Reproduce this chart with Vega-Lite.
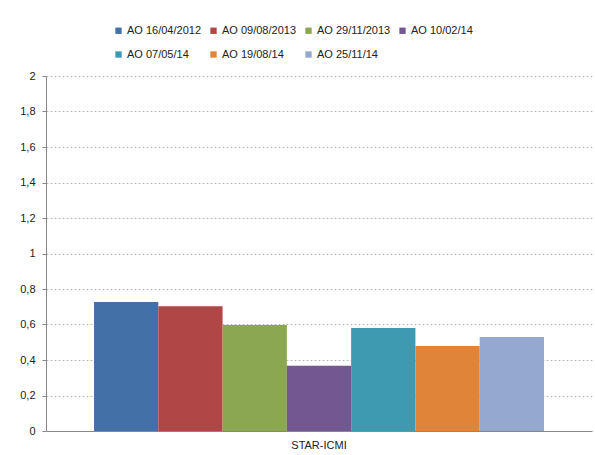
{
  "$schema": "https://vega.github.io/schema/vega-lite/v6.json",
  "autosize": {"type": "none"},
  "width": 546,
  "height": 355,
  "padding": {"left": 46, "top": 76, "right": 3, "bottom": 24},
  "background": "white",
  "config": {
    "font": "Liberation Sans",
    "view": {"stroke": null}
  },
  "data": {
    "values": [
      {"group": "STAR-ICMI", "series": "AO 16/04/2012", "value": 0.727},
      {"group": "STAR-ICMI", "series": "AO 09/08/2013", "value": 0.703},
      {"group": "STAR-ICMI", "series": "AO 29/11/2013", "value": 0.597},
      {"group": "STAR-ICMI", "series": "AO 10/02/14", "value": 0.368},
      {"group": "STAR-ICMI", "series": "AO 07/05/14", "value": 0.580},
      {"group": "STAR-ICMI", "series": "AO 19/08/14", "value": 0.479},
      {"group": "STAR-ICMI", "series": "AO 25/11/14", "value": 0.530}
    ]
  },
  "mark": {"type": "bar"},
  "encoding": {
    "x": {
      "field": "group", "type": "nominal", "title": null,
      "scale": {"paddingInner": 0, "paddingOuter": 0.1067},
      "axis": {"labelAngle": 0, "labelFontSize": 11, "labelColor": "#222", "labelPadding": 8, "ticks": false, "domainColor": "#888", "grid": false}
    },
    "xOffset": {
      "field": "series", "type": "nominal",
      "sort": ["AO 16/04/2012", "AO 09/08/2013", "AO 29/11/2013", "AO 10/02/14", "AO 07/05/14", "AO 19/08/14", "AO 25/11/14"],
      "scale": {"paddingInner": 0, "paddingOuter": 0}
    },
    "y": {
      "field": "value", "type": "quantitative", "title": null,
      "scale": {"domain": [0, 2], "nice": false},
      "axis": {"values": [0, 0.2, 0.4, 0.6, 0.8, 1, 1.2, 1.4, 1.6, 1.8, 2], "labelExpr": "replace(format(datum.value, '~g'), '.', ',')", "labelFontSize": 11, "labelColor": "#222", "labelPadding": 7, "tickSize": 4, "tickColor": "#888", "domainColor": "#888", "gridColor": "#aaa", "gridDash": [2, 2], "gridWidth": 0.8}
    },
    "color": {
      "field": "series", "type": "nominal",
      "sort": ["AO 16/04/2012", "AO 09/08/2013", "AO 29/11/2013", "AO 10/02/14", "AO 07/05/14", "AO 19/08/14", "AO 25/11/14"],
      "scale": {"range": ["#4470a8", "#b04645", "#8ca751", "#725791", "#3d9ab1", "#e0843a", "#94a9cd"]},
      "legend": {
        "title": null, "orient": "none", "legendX": 67, "legendY": -51,
        "direction": "horizontal", "columns": 4,
        "symbolType": "square", "symbolSize": 40, "symbolStrokeWidth": 0,
        "labelFontSize": 11, "labelColor": "#222", "labelOffset": 3,
        "columnPadding": 6, "rowPadding": 12
      }
    }
  }
}
